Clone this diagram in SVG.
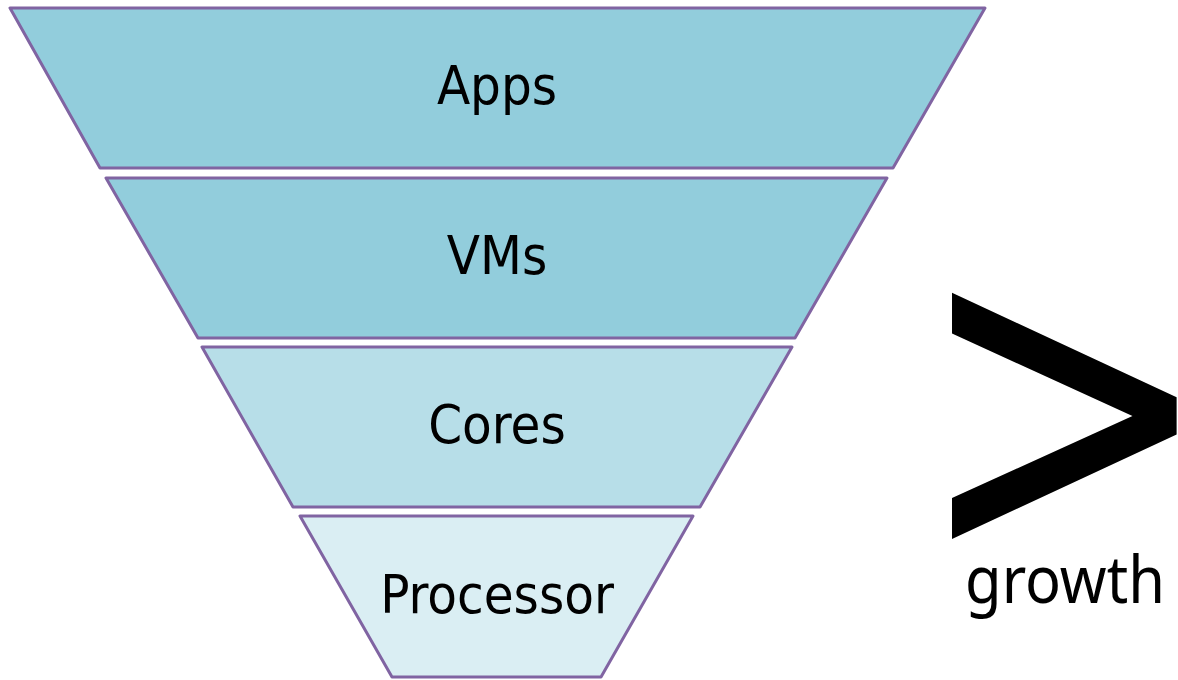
<svg xmlns="http://www.w3.org/2000/svg" width="1178" height="680" viewBox="0 0 1178 680">
  <style>
    .tier { stroke: #8064A2; stroke-width: 3; stroke-linejoin: round; }
    .dark { fill: #92CDDC; }
    .mid { fill: #B7DEE8; }
    .light { fill: #DAEEF3; }
    .label { font-family: "DejaVu Sans Condensed", "DejaVu Sans", sans-serif; font-size: 54px; fill: #000; text-anchor: middle; }
    .big { font-family: "DejaVu Sans", sans-serif; fill: #000; }
    .caption { font-family: "Noto Sans", "Open Sans", sans-serif; font-size: 66px; fill: #000; }
  </style>
  <rect width="1178" height="680" fill="#fff"/>
  <g id="apps">
    <polygon class="tier dark" points="10,8 985,8 893,168 100,168"/>
    <text class="label" x="497" y="104">Apps</text>
  </g>
  <g id="vms">
    <polygon class="tier dark" points="106,178 887,178 795,338 198,338"/>
    <text class="label" x="497" y="274">VMs</text>
  </g>
  <g id="cores">
    <polygon class="tier mid" points="202,347 792,347 700,507 293,507"/>
    <text class="label" x="497" y="443">Cores</text>
  </g>
  <g id="processor">
    <polygon class="tier light" points="300,516 693,516 601,677 392,677"/>
    <text class="label" x="497" y="613">Processor</text>
  </g>
  <g id="growth">
    <!-- large "greater than" sign, narrowed so the arms run steeper -->
    <g transform="translate(953,0) scale(0.78,1) translate(-953,0)">
      <text class="big" x="903" y="560" font-size="460">&gt;</text>
    </g>
    <text class="caption" x="965" y="603" textLength="200" lengthAdjust="spacingAndGlyphs">growth</text>
  </g>
</svg>
